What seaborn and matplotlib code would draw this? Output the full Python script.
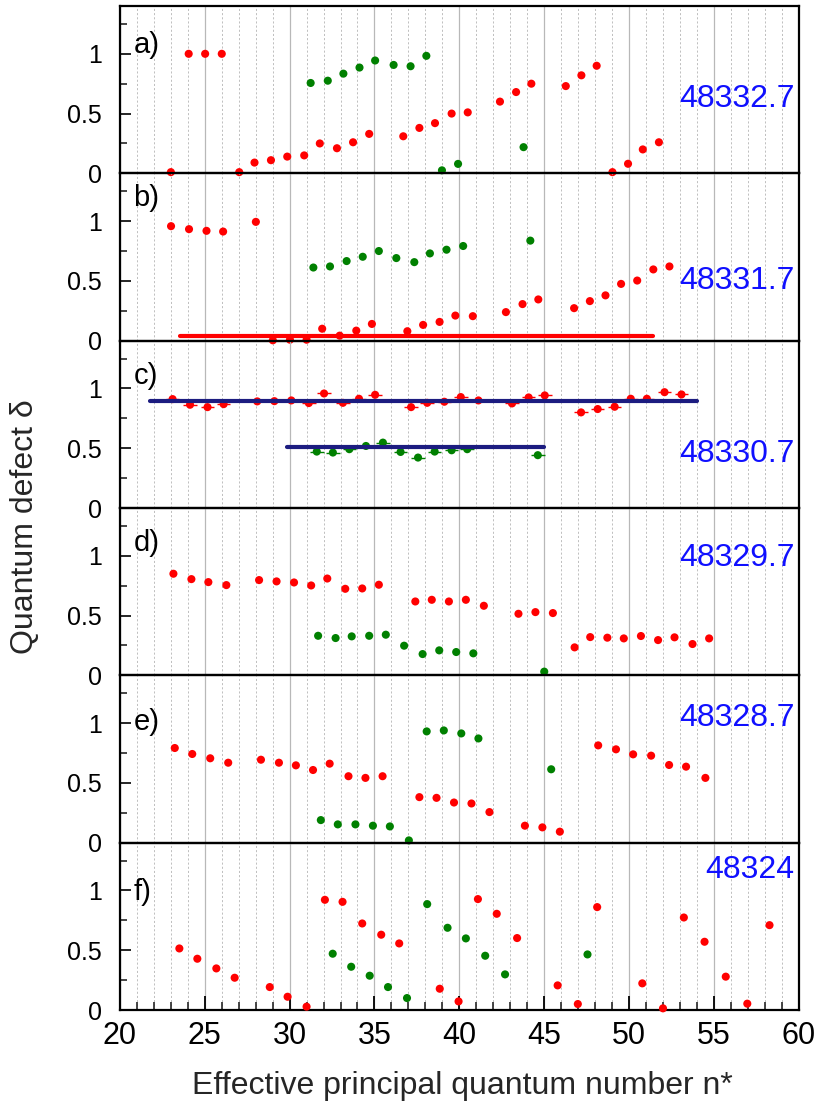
import numpy as np
import pandas as pd
import matplotlib
matplotlib.use("Agg")
import matplotlib.pyplot as plt
import seaborn as sns
from matplotlib.ticker import MultipleLocator, FixedLocator, FuncFormatter

sns.set_theme(style="white")
plt.rcParams['font.family'] = ['Liberation Sans', 'DejaVu Sans']

# ---------------- data ----------------
panel_labels = ["a)", "b)", "c)", "d)", "e)", "f)"]
energies = ["48332.7", "48331.7", "48330.7", "48329.7", "48328.7", "48324"]
energy_y = [0.62, 0.50, 0.45, 0.98, 1.04, 1.175]
letter_y = [1.07, 1.19, 1.105, 1.11, 1.01, 0.99]

a_red_x = [23.0, 24.05, 25.02, 26.0, 27.03, 27.93, 28.9, 29.86, 30.86, 31.78, 32.79, 33.74, 34.69,
           36.7, 37.65, 38.57, 39.55, 40.5, 42.4, 43.35, 44.25, 46.28, 47.2, 48.1, 49.03, 49.95,
           50.82, 51.77]
a_red_y = [0.01, 1.0, 1.0, 1.0, 0.01, 0.09, 0.11, 0.14, 0.15, 0.25, 0.21, 0.26, 0.33,
           0.31, 0.38, 0.42, 0.50, 0.51, 0.60, 0.68, 0.75, 0.73, 0.82, 0.90, 0.01, 0.08,
           0.20, 0.26]
a_green_x = [31.24, 32.25, 33.17, 34.12, 35.04, 36.13, 37.13, 38.06, 38.98, 39.93, 43.79]
a_green_y = [0.756, 0.775, 0.834, 0.885, 0.944, 0.907, 0.896, 0.983, 0.025, 0.079, 0.219]

b_red_x = [23.01, 24.07, 25.1, 26.08, 28.01, 29.01, 30.02, 31.0, 31.92, 32.95, 33.93, 34.85,
           36.94, 37.87, 38.84, 39.77, 40.8, 42.75, 43.73, 44.66, 46.77, 47.7, 48.62, 49.54,
           50.49, 51.44, 52.39]
b_red_y = [0.958, 0.933, 0.919, 0.913, 0.994, 0.003, 0.008, 0.008, 0.10, 0.042, 0.084, 0.14,
           0.079, 0.132, 0.157, 0.21, 0.205, 0.239, 0.306, 0.345, 0.272, 0.331, 0.379, 0.475,
           0.503, 0.596, 0.621]
b_green_x = [31.4, 32.38, 33.36, 34.31, 35.26, 36.29, 37.35, 38.27, 39.25, 40.23, 44.19]
b_green_y = [0.612, 0.621, 0.666, 0.702, 0.75, 0.691, 0.657, 0.73, 0.761, 0.792, 0.837]
b_line_x = [23.53, 51.44]
b_line_y = [0.042, 0.042]

c_red_x = [23.1, 24.13, 25.16, 26.11, 28.09, 29.1, 30.1, 31.13, 32.03, 33.14, 34.09, 35.04,
           37.16, 38.11, 39.12, 40.09, 41.13, 43.11, 44.09, 45.04, 47.18, 48.16, 49.16, 50.11,
           51.06, 52.1, 53.1]
c_red_y = [0.911, 0.864, 0.844, 0.869, 0.892, 0.894, 0.90, 0.878, 0.958, 0.88, 0.914, 0.947,
           0.844, 0.88, 0.889, 0.928, 0.90, 0.875, 0.925, 0.942, 0.80, 0.828, 0.847, 0.914,
           0.914, 0.969, 0.95]
c_green_x = [31.6, 32.55, 33.52, 34.5, 35.5, 36.54, 37.57, 38.55, 39.55, 40.47, 44.63]
c_green_y = [0.472, 0.464, 0.492, 0.519, 0.547, 0.469, 0.422, 0.472, 0.483, 0.492, 0.442]
c_line1_x = [21.79, 54.0]
c_line1_y = [0.892, 0.892]
c_line2_x = [29.86, 45.01]
c_line2_y = [0.508, 0.508]

d_red_x = [23.15, 24.21, 25.21, 26.27, 28.2, 29.23, 30.26, 31.27, 32.22, 33.28, 34.28, 35.26,
           37.41, 38.38, 39.39, 40.39, 41.45, 43.49, 44.49, 45.52, 46.8, 47.72, 48.73, 49.7,
           50.71, 51.72, 52.69, 53.75, 54.73]
d_red_y = [0.85, 0.805, 0.78, 0.755, 0.797, 0.786, 0.777, 0.752, 0.81, 0.724, 0.727, 0.758,
           0.618, 0.632, 0.618, 0.632, 0.582, 0.515, 0.529, 0.521, 0.234, 0.32, 0.315, 0.309,
           0.329, 0.295, 0.318, 0.262, 0.309]
d_green_x = [31.68, 32.71, 33.66, 34.69, 35.67, 36.75, 37.84, 38.82, 39.82, 40.83, 45.01]
d_green_y = [0.331, 0.312, 0.326, 0.331, 0.34, 0.248, 0.178, 0.209, 0.195, 0.184, 0.031]

e_red_x = [23.23, 24.26, 25.32, 26.38, 28.31, 29.37, 30.37, 31.38, 32.36, 33.47, 34.47, 35.48,
           37.65, 38.66, 39.69, 40.72, 41.78, 43.87, 44.9, 45.93, 48.19, 49.24, 50.25, 51.31,
           52.37, 53.37, 54.51]
e_red_y = [0.792, 0.742, 0.706, 0.669, 0.694, 0.669, 0.647, 0.608, 0.661, 0.556, 0.542, 0.556,
           0.381, 0.375, 0.336, 0.328, 0.256, 0.142, 0.128, 0.092, 0.814, 0.781, 0.739, 0.728,
           0.65, 0.636, 0.542]
e_green_x = [31.84, 32.84, 33.88, 34.91, 35.91, 37.03, 38.08, 39.09, 40.12, 41.13, 45.42]
e_green_y = [0.189, 0.153, 0.153, 0.142, 0.136, 0.019, 0.931, 0.939, 0.914, 0.872, 0.614]

f_red_x = [23.5, 24.56, 25.68, 26.76, 28.83, 29.88, 31.0, 32.08, 33.12, 34.28, 35.4, 36.46,
           38.85, 39.96, 41.1, 42.21, 43.41, 45.8, 46.99, 48.13, 50.79, 52.01, 53.24, 54.46,
           55.71, 56.98, 58.29]
f_red_y = [0.515, 0.429, 0.348, 0.27, 0.192, 0.111, 0.028, 0.922, 0.905, 0.724, 0.63, 0.557,
           0.178, 0.072, 0.928, 0.805, 0.602, 0.206, 0.05, 0.861, 0.223, 0.014, 0.774, 0.571,
           0.279, 0.053, 0.71]
f_green_x = [32.54, 33.63, 34.72, 35.8, 36.92, 38.11, 39.31, 40.39, 41.53, 42.7, 47.56]
f_green_y = [0.471, 0.362, 0.287, 0.192, 0.10, 0.886, 0.688, 0.599, 0.454, 0.298, 0.465]

red_sets = [(a_red_x, a_red_y), (b_red_x, b_red_y), (c_red_x, c_red_y),
            (d_red_x, d_red_y), (e_red_x, e_red_y), (f_red_x, f_red_y)]
green_sets = [(a_green_x, a_green_y), (b_green_x, b_green_y), (c_green_x, c_green_y),
              (d_green_x, d_green_y), (e_green_x, e_green_y), (f_green_x, f_green_y)]

rows = []
for i, ((rx, ry), (gx, gy)) in enumerate(zip(red_sets, green_sets)):
    rows += [dict(panel=i, series="red", x=x, y=y) for x, y in zip(rx, ry)]
    rows += [dict(panel=i, series="green", x=x, y=y) for x, y in zip(gx, gy)]
df = pd.DataFrame(rows)

palette = {"red": "#ff0000", "green": "#008000"}

# ---------------- figure ----------------
fig, axes = plt.subplots(6, 1, figsize=(8.19, 11.11), dpi=100, sharex=True)
fig.subplots_adjust(left=0.1465, right=0.975, top=0.9946, bottom=0.0909, hspace=0)

for i, ax in enumerate(axes):
    ax.set_facecolor("none")
    sub = df[df.panel == i]
    if i == 2:
        for s in ["red", "green"]:
            ss = sub[sub.series == s]
            ax.errorbar(ss.x, ss.y, xerr=0.4, fmt="none", ecolor=palette[s], elinewidth=1.0,
                        zorder=3)
    sns.scatterplot(data=sub, x="x", y="y", hue="series", palette=palette, s=34,
                    edgecolor="none", linewidth=0, legend=False, ax=ax, zorder=4, clip_on=False)
    if i == 1:
        sns.lineplot(x=b_line_x, y=b_line_y, color="#ff0000", lw=3, ax=ax, zorder=3)
    if i == 2:
        sns.lineplot(x=c_line1_x, y=c_line1_y, color="#1c1c80", lw=3, ax=ax, zorder=5)
        sns.lineplot(x=c_line2_x, y=c_line2_y, color="#1c1c80", lw=3, ax=ax, zorder=5)

    ax.set_xlim(20, 60)
    ax.set_ylim(0, 1.4)
    ax.xaxis.set_major_locator(MultipleLocator(5))
    ax.xaxis.set_minor_locator(MultipleLocator(1))
    ax.yaxis.set_major_locator(FixedLocator([0, 0.5, 1]))
    ax.yaxis.set_minor_locator(FixedLocator([0.25, 0.75, 1.25]))
    ax.yaxis.set_major_formatter(FuncFormatter(lambda v, p: f"{v:g}"))
    ax.grid(which="major", axis="x", color="#b8b8b8", lw=0.9, ls="-", zorder=0)
    ax.grid(which="minor", axis="x", color="#b4b4b4", lw=0.6, ls=(0, (2.5, 2.5)), zorder=0)
    ax.grid(which="both", axis="y", visible=False)
    ax.set_axisbelow(True)
    ax.tick_params(axis="y", which="major", left=True, direction="in", length=8, width=1.2,
                   labelsize=18, pad=13, colors="black")
    ax.tick_params(axis="y", which="minor", left=True, direction="in", length=5, width=1.2)
    if i < 5:
        ax.tick_params(axis="x", which="both", bottom=False, labelbottom=False)
    else:
        ax.tick_params(axis="x", which="major", bottom=True, direction="in", length=10, width=1.3,
                       labelsize=22, pad=8, colors="black")
        ax.tick_params(axis="x", which="minor", bottom=True, direction="in", length=6, width=1.2)
    for sp in ax.spines.values():
        sp.set_color("black")
        sp.set_linewidth(1.6)
    ax.set_xlabel("")
    ax.set_ylabel("")
    ax.text(20.8, letter_y[i], panel_labels[i], fontsize=21, ha="left", va="center", color="black")
    ax.text(59.75, energy_y[i], energies[i], fontsize=23, ha="right", va="center", color="#1010ff")

fig.text(0.031, 0.526, "Quantum defect δ", rotation=90, ha="center", va="center", fontsize=23)
fig.text(0.565, 0.0225, "Effective principal quantum number n*", ha="center", va="center",
         fontsize=23)

fig.savefig("out.png", dpi=100)
